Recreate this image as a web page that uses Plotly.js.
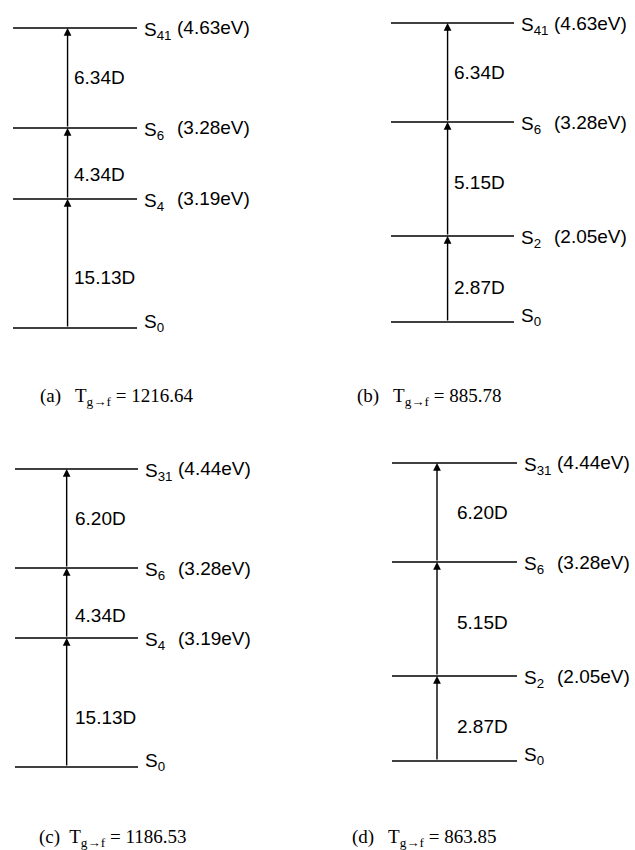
<!DOCTYPE html>
<html>
<head>
<meta charset="utf-8">
<script src="https://cdn.plot.ly/plotly-3.0.1.min.js"></script>
<style>html,body{margin:0;padding:0;background:#fff;}#chart{width:635px;height:850px;}</style>
</head>
<body>
<div id="chart"></div>
<script>
// ---- data ----
const panelTags = ['(a)', '(b)', '(c)', '(d)'];
const tgf = [1216.64, 885.78, 1186.53, 863.85];

const statesA = ['0', '4', '6', '41'];
const energiesA = [null, 3.19, 3.28, 4.63];
const levelsA = [0, 129, 200, 300];      // schematic level heights
const dipolesA = [15.13, 4.34, 6.34];

const statesB = ['0', '2', '6', '41'];
const energiesB = [null, 2.05, 3.28, 4.63];
const levelsB = [0, 86, 200, 299];
const dipolesB = [2.87, 5.15, 6.34];

const statesC = ['0', '4', '6', '31'];
const energiesC = [null, 3.19, 3.28, 4.44];
const levelsC = [0, 129, 199, 298];
const dipolesC = [15.13, 4.34, 6.20];

const statesD = ['0', '2', '6', '31'];
const energiesD = [null, 2.05, 3.28, 4.44];
const levelsD = [0, 85, 199, 298];
const dipolesD = [2.87, 5.15, 6.20];

// ---- layout / style ----
const W = 635, H = 850;
const geom = [
  {x0: 13,  x1: 137, s0: 328, arrowX: 0.44, lblDx: 4,  lblShift: [-14, -11, 0], capX: 38,  capY: 397, sp: '  '},
  {x0: 391, x1: 514, s0: 322, arrowX: 0.46, lblDx: 4,  lblShift: [-8, -3, 0],   capX: 355, capY: 397, sp: '  '},
  {x0: 15,  x1: 138, s0: 767, arrowX: 0.42, lblDx: 6,  lblShift: [-15, -12, 0], capX: 37,  capY: 838, sp: ' '},
  {x0: 392, x1: 517, s0: 761, arrowX: 0.36, lblDx: 18, lblShift: [-8, -3, 0],   capX: 350, capY: 838, sp: '  '}
];
const panels = [
  {states: statesA, energies: energiesA, levels: levelsA, dipoles: dipolesA},
  {states: statesB, energies: energiesB, levels: levelsB, dipoles: dipolesB},
  {states: statesC, energies: energiesC, levels: levelsC, dipoles: dipolesC},
  {states: statesD, energies: energiesD, levels: levelsD, dipoles: dipolesD}
];

const sans = 'Liberation Sans, Arial, sans-serif';
const serif = 'Liberation Serif, Times New Roman, serif';
const FS = 19;
const data = [];
const annotations = [];
const layout = {
  width: W, height: H,
  margin: {l: 0, r: 0, t: 0, b: 0},
  paper_bgcolor: '#fff', plot_bgcolor: 'rgba(0,0,0,0)',
  showlegend: false,
  annotations: annotations
};
const YR = [-20, 310];

panels.forEach((p, i) => {
  const g = geom[i];
  const n = i + 1;
  const xa = n === 1 ? 'x' : 'x' + n;
  const ya = n === 1 ? 'y' : 'y' + n;
  const xk = n === 1 ? 'xaxis' : 'xaxis' + n;
  const yk = n === 1 ? 'yaxis' : 'yaxis' + n;
  const axisBase = {visible: false, showgrid: false, zeroline: false, fixedrange: true};
  layout[xk] = Object.assign({}, axisBase, {range: [0, 1], domain: [g.x0 / W, g.x1 / W], anchor: ya});
  layout[yk] = Object.assign({}, axisBase, {range: YR,
    domain: [(H - (g.s0 - YR[0])) / H, (H - (g.s0 - YR[1])) / H], anchor: xa});

  // level lines
  const lx = [], ly = [];
  p.levels.forEach(h => { lx.push(0, 1, null); ly.push(h, h, null); });
  data.push({type: 'scatter', mode: 'lines', x: lx, y: ly, xaxis: xa, yaxis: ya,
    line: {color: '#000', width: 1.7}, hoverinfo: 'skip'});

  // state labels
  p.states.forEach((s, k) => {
    annotations.push({xref: xa, yref: ya, x: 1, y: p.levels[k], xanchor: 'left', yanchor: 'middle',
      xshift: 5, yshift: k === 0 ? 5 : -3, showarrow: false,
      text: 'S<sub>' + s + '</sub>', font: {family: sans, size: FS, color: '#000'}});
    if (p.energies[k] !== null) {
      annotations.push({xref: xa, yref: ya, x: 1, y: p.levels[k], xanchor: 'left', yanchor: 'middle',
        xshift: 38, yshift: 0, showarrow: false,
        text: '(' + p.energies[k].toFixed(2) + 'eV)', font: {family: sans, size: FS, color: '#000'}});
    }
  });

  // transition arrows + dipole labels
  p.dipoles.forEach((d, k) => {
    const lo = p.levels[k], hi = p.levels[k + 1];
    annotations.push({xref: xa, yref: ya, axref: xa, ayref: ya,
      x: g.arrowX, y: hi, ax: g.arrowX, ay: lo, text: '', showarrow: true,
      arrowhead: 2, arrowsize: 1.1, arrowwidth: 1.4, arrowcolor: '#000', standoff: 0, startstandoff: 0});
    annotations.push({xref: xa, yref: ya, x: g.arrowX, y: (lo + hi) / 2, xanchor: 'left', yanchor: 'middle',
      xshift: g.lblDx, yshift: g.lblShift[k], showarrow: false,
      text: d.toFixed(2) + 'D', font: {family: sans, size: FS, color: '#000'}});
  });

  // caption
  annotations.push({xref: 'paper', yref: 'paper', x: g.capX / W, y: 1 - g.capY / H,
    xanchor: 'left', yanchor: 'middle', showarrow: false,
    text: panelTags[i] + g.sp + ' T<sub>g\u2192f</sub> = ' + tgf[i].toFixed(2),
    font: {family: serif, size: 19, color: '#000'}});
});

Plotly.newPlot('chart', data, layout, {staticPlot: true, displayModeBar: false});
</script>
</body>
</html>
